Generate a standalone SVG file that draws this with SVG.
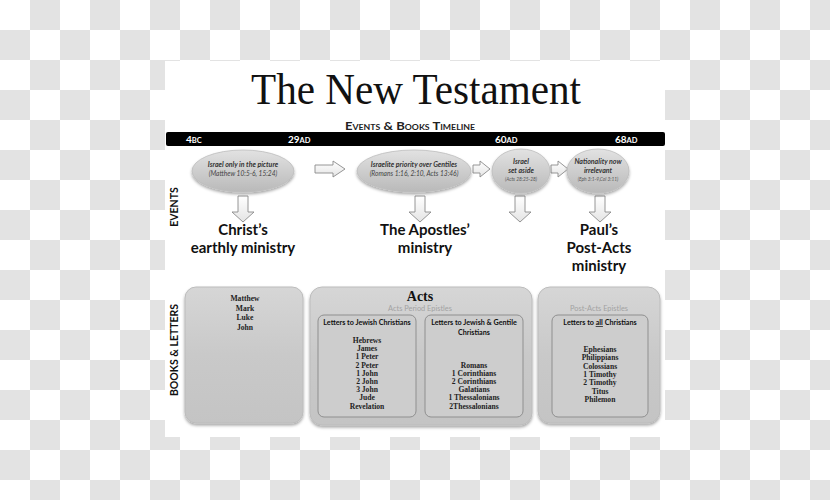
<svg xmlns="http://www.w3.org/2000/svg" width="830" height="500" viewBox="0 0 830 500">
<defs>
<pattern id="checker" width="60" height="60" patternUnits="userSpaceOnUse">
<rect width="60" height="60" fill="#ffffff"/>
<rect x="30" y="0" width="30" height="30" fill="#e3e3e3"/>
<rect x="0" y="30" width="30" height="30" fill="#e3e3e3"/>
</pattern>
<linearGradient id="ellG" x1="0" y1="0" x2="0" y2="1">
<stop offset="0" stop-color="#e2e2e2"/>
<stop offset="1" stop-color="#b9b9b9"/>
</linearGradient>
<linearGradient id="boxG" x1="0" y1="0" x2="0" y2="1">
<stop offset="0" stop-color="#d6d6d6"/>
<stop offset="0.5" stop-color="#c9c9c9"/>
<stop offset="1" stop-color="#c4c4c4"/>
</linearGradient>
<linearGradient id="arrG" x1="0" y1="0" x2="0" y2="1">
<stop offset="0" stop-color="#ffffff"/>
<stop offset="1" stop-color="#e4e4e4"/>
</linearGradient>
<filter id="sh" x="-20%" y="-20%" width="140%" height="150%">
<feDropShadow dx="0" dy="2" stdDeviation="1.6" flood-color="#000" flood-opacity="0.35"/>
</filter>
</defs>
<style>
.sans{font-family:Lato,"Liberation Sans",sans-serif}
.serif{font-family:"Liberation Serif","Times New Roman",serif}
.ell{fill:url(#ellG);stroke:#bdbdbd;stroke-width:0.8;filter:url(#sh)}
.ell1{font-family:Lato,"Liberation Sans",sans-serif;font-style:italic;font-weight:bold;font-size:7px;fill:#333;text-anchor:middle}
.ell2{font-family:Lato,"Liberation Sans",sans-serif;font-style:italic;font-size:6.6px;fill:#444;text-anchor:middle}
.ell3{font-family:Lato,"Liberation Sans",sans-serif;font-style:italic;font-size:4.8px;fill:#555;text-anchor:middle}
.head{font-family:Lato,"Liberation Sans",sans-serif;font-weight:bold;font-size:15px;fill:#111;text-anchor:middle}
.arr{fill:url(#arrG);stroke:#8a8a8a;stroke-width:0.9}
.box{fill:url(#boxG);stroke:#bcbcbc;stroke-width:1;filter:url(#sh)}
.inner{fill:#cdcdcd;stroke:#8f8f8f;stroke-width:1}
.lst{font-family:"Liberation Serif","Times New Roman",serif;font-weight:bold;font-size:7.6px;fill:#222;text-anchor:middle}
.sub{font-family:Lato,"Liberation Sans",sans-serif;font-size:7.4px;fill:#a2a2a2;text-anchor:middle}
.ih{font-family:Lato,"Liberation Sans",sans-serif;font-weight:bold;font-size:7.2px;fill:#111;text-anchor:middle}
.bar{font-family:Lato,"Liberation Sans",sans-serif;font-weight:bold;font-size:10px;fill:#fff}
.side{font-family:Lato,"Liberation Sans",sans-serif;font-weight:bold;font-size:10.5px;fill:#111;text-anchor:middle}
</style>
<rect width="830" height="500" fill="url(#checker)"/>
<rect x="165" y="61" width="500" height="376" fill="#ffffff"/>

<g id="title">
<text x="416" y="104" class="serif" font-size="44" fill="#111" text-anchor="middle" textLength="330" lengthAdjust="spacingAndGlyphs">The New Testament</text>
<text x="410" y="130" class="sans" font-size="10.5" font-weight="bold" fill="#222" text-anchor="middle" style="font-variant:small-caps" textLength="130" lengthAdjust="spacingAndGlyphs">Events &amp; Books Timeline</text>
</g>

<g id="timeline">
<rect x="166" y="132" width="499" height="14" rx="2" fill="#000"/>
<text x="186" y="143" class="bar">4<tspan font-size="7.5">BC</tspan></text>
<text x="288" y="143" class="bar">29<tspan font-size="7.5">AD</tspan></text>
<text x="495" y="143" class="bar">60<tspan font-size="7.5">AD</tspan></text>
<text x="615" y="143" class="bar">68<tspan font-size="7.5">AD</tspan></text>
</g>

<g id="label-events"><text class="side" transform="translate(178,207) rotate(-90)">EVENTS</text></g>
<g id="label-books"><text class="side" transform="translate(178,350) rotate(-90)">BOOKS &amp; LETTERS</text></g>

<g id="connectors">
<path class="arr" d="M315,165 H333 V161 L345,169 L333,177 V173 H315 Z"/>
<path class="arr" d="M473,165 H480 V161 L490,169 L480,177 V173 H473 Z"/>
<path class="arr" d="M551,165 H558 V161 L568,169 L558,177 V173 H551 Z"/>
<path class="arr" d="M238,196 H248 V212 H254 L243,222 L232,212 H238 Z"/>
<path class="arr" d="M415,196 H425 V212 H431 L420,222 L409,212 H415 Z"/>
<path class="arr" d="M515,196 H525 V212 H531 L520,222 L509,212 H515 Z"/>
<path class="arr" d="M595,196 H605 V212 H611 L600,222 L589,212 H595 Z"/>
</g>

<g id="event-israel-only">
<ellipse class="ell" cx="243" cy="171" rx="51" ry="21"/>
<text class="ell1" x="243" y="167">Israel only in the picture</text>
<text class="ell2" x="243" y="176">(Matthew 10:5-6, 15:24)</text>
</g>
<g id="event-israelite-priority">
<ellipse class="ell" cx="414" cy="171" rx="57" ry="21"/>
<text class="ell1" x="414" y="167">Israelite priority over Gentiles</text>
<text class="ell2" x="414" y="176">(Romans 1:16, 2:10, Acts 13:46)</text>
</g>
<g id="event-set-aside">
<ellipse class="ell" cx="521" cy="171" rx="29" ry="22"/>
<text class="ell1" x="521" y="164">Israel</text>
<text class="ell1" x="521" y="173">set aside</text>
<text class="ell3" x="521" y="181">(Acts 28:25-28)</text>
</g>
<g id="event-nationality">
<ellipse class="ell" cx="598" cy="171" rx="31" ry="22"/>
<text class="ell1" x="598" y="164">Nationality now</text>
<text class="ell1" x="598" y="173">irrelevant</text>
<text class="ell3" x="598" y="181">(Eph 3:1-9,Col 3:11)</text>
</g>

<g id="ministry-christ">
<text class="head" x="243" y="235">Christ’s</text>
<text class="head" x="243" y="253">earthly ministry</text>
</g>
<g id="ministry-apostles">
<text class="head" x="425" y="235">The Apostles’</text>
<text class="head" x="425" y="253">ministry</text>
</g>
<g id="ministry-paul">
<text class="head" x="599" y="235">Paul’s</text>
<text class="head" x="599" y="253">Post-Acts</text>
<text class="head" x="599" y="271">ministry</text>
</g>

<g id="box-gospels">
<rect class="box" x="185" y="287" width="118" height="136" rx="11"/>
<text class="lst" x="245" y="301">Matthew</text>
<text class="lst" x="245" y="310.5">Mark</text>
<text class="lst" x="245" y="320">Luke</text>
<text class="lst" x="245" y="329.5">John</text>
</g>

<g id="box-acts">
<rect class="box" x="310" y="287" width="222" height="138" rx="12"/>
<text class="serif" x="420" y="301" font-size="14" font-weight="bold" fill="#111" text-anchor="middle">Acts</text>
<text class="sub" x="420" y="311">Acts Period Epistles</text>
<g id="acts-jewish">
<rect class="inner" x="318" y="315" width="98" height="102" rx="6"/>
<text class="ih" x="367" y="325">Letters to Jewish Christians</text>
<text class="lst" x="367" y="343">Hebrews</text>
<text class="lst" x="367" y="351.2">James</text>
<text class="lst" x="367" y="359.4">1 Peter</text>
<text class="lst" x="367" y="367.6">2 Peter</text>
<text class="lst" x="367" y="375.8">1 John</text>
<text class="lst" x="367" y="384">2 John</text>
<text class="lst" x="367" y="392.2">3 John</text>
<text class="lst" x="367" y="400.4">Jude</text>
<text class="lst" x="367" y="408.6">Revelation</text>
</g>
<g id="acts-gentile">
<rect class="inner" x="425" y="315" width="98" height="102" rx="6"/>
<text class="ih" x="474" y="325">Letters to Jewish &amp; Gentile</text>
<text class="ih" x="474" y="334.5">Christians</text>
<text class="lst" x="474" y="367.6">Romans</text>
<text class="lst" x="474" y="375.8">1 Corinthians</text>
<text class="lst" x="474" y="384">2 Corinthians</text>
<text class="lst" x="474" y="392.2">Galatians</text>
<text class="lst" x="474" y="400.4">1 Thessalonians</text>
<text class="lst" x="474" y="408.6">2Thessalonians</text>
</g>
</g>

<g id="box-post-acts">
<rect class="box" x="538" y="287" width="122" height="136" rx="12"/>
<text class="sub" x="599" y="311">Post-Acts Epistles</text>
<g id="post-acts-all">
<rect class="inner" x="552" y="315" width="96" height="102" rx="6"/>
<text class="ih" x="600" y="325">Letters to <tspan text-decoration="underline">all</tspan> Christians</text>
<text class="lst" x="600" y="352">Ephesians</text>
<text class="lst" x="600" y="360.3">Philippians</text>
<text class="lst" x="600" y="368.6">Colossians</text>
<text class="lst" x="600" y="376.9">1 Timothy</text>
<text class="lst" x="600" y="385.2">2 Timothy</text>
<text class="lst" x="600" y="393.5">Titus</text>
<text class="lst" x="600" y="401.8">Philemon</text>
</g>
</g>
</svg>
